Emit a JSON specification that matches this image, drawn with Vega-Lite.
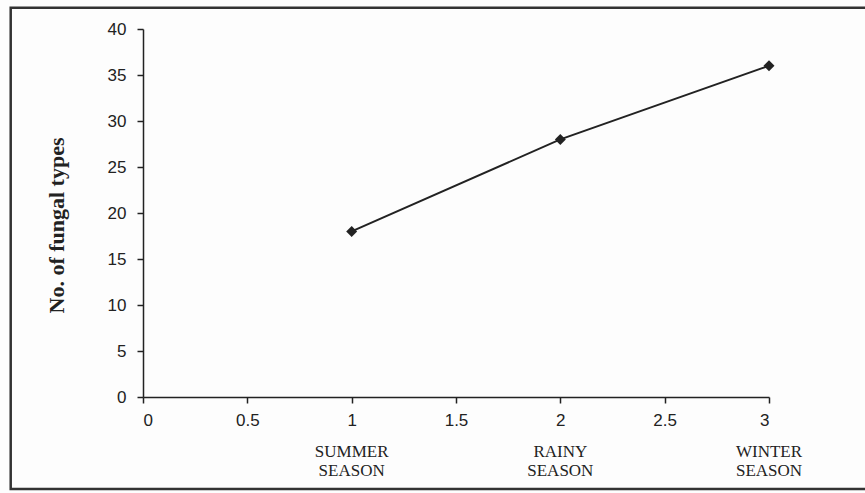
{
  "$schema": "https://vega.github.io/schema/vega-lite/v6.json",
  "width": 626,
  "height": 368,
  "autosize": {"type": "none"},
  "padding": {"left": 143, "top": 29, "right": 96, "bottom": 96},
  "background": "#fdfdfd",
  "config": {
    "view": {"stroke": null},
    "axis": {
      "labelFont": "Liberation Sans",
      "labelFontSize": 17,
      "labelColor": "#222",
      "domainColor": "#222",
      "tickColor": "#222",
      "domainWidth": 1.5,
      "tickWidth": 1.5,
      "grid": false
    }
  },
  "datasets": {
    "series": [
      {"season": 1, "types": 18, "label": ["SUMMER", "SEASON"]},
      {"season": 2, "types": 28, "label": ["RAINY", "SEASON"]},
      {"season": 3, "types": 36, "label": ["WINTER", "SEASON"]}
    ],
    "frame": [
      {"x1": -0.634, "x2": 3.5, "y1": -10.0, "y2": 42.3}
    ]
  },
  "layer": [
    {
      "data": {"name": "series"},
      "mark": {"type": "line", "color": "#222", "strokeWidth": 2},
      "encoding": {
        "x": {
          "field": "season", "type": "quantitative",
          "scale": {"domain": [0, 3], "nice": false},
          "axis": {"title": null, "values": [0, 0.5, 1, 1.5, 2, 2.5, 3], "format": "~g", "tickSize": 6, "labelPadding": 9}
        },
        "y": {
          "field": "types", "type": "quantitative",
          "scale": {"domain": [0, 40], "nice": false},
          "axis": {
            "title": "No. of fungal types",
            "titleFont": "Liberation Serif",
            "titleFontSize": 22,
            "titleFontWeight": "bold",
            "titleColor": "#222",
            "titlePadding": 39,
            "titleY": 196,
            "values": [0, 5, 10, 15, 20, 25, 30, 35, 40],
            "tickSize": 6,
            "labelPadding": 11
          }
        }
      }
    },
    {
      "data": {"name": "frame"},
      "mark": {"type": "rect", "fill": null, "stroke": "#333", "strokeWidth": 2.5},
      "encoding": {
        "x": {"field": "x1", "type": "quantitative"},
        "x2": {"field": "x2"},
        "y": {"field": "y1", "type": "quantitative"},
        "y2": {"field": "y2"}
      }
    },
    {
      "data": {"name": "series"},
      "mark": {"type": "point", "shape": "diamond", "filled": true, "color": "#222", "size": 120, "opacity": 1},
      "encoding": {
        "x": {"field": "season", "type": "quantitative"},
        "y": {"field": "types", "type": "quantitative"}
      }
    },
    {
      "data": {"name": "series"},
      "mark": {"type": "text", "font": "Liberation Serif", "fontSize": 17, "color": "#222", "baseline": "middle", "align": "center", "lineHeight": 19},
      "encoding": {
        "x": {"field": "season", "type": "quantitative"},
        "y": {"datum": -6.0, "type": "quantitative"},
        "text": {"field": "label"}
      }
    }
  ]
}
